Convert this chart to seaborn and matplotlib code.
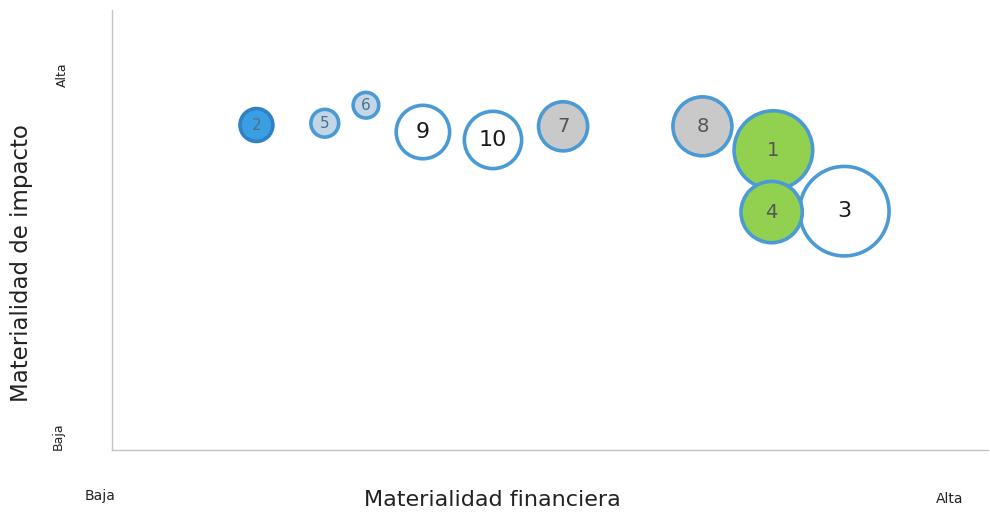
import matplotlib
matplotlib.use("Agg")
import matplotlib.pyplot as plt
import seaborn as sns
import pandas as pd

# bubbles: id, financial materiality (x), impact materiality (y), marker area
labels = ["1", "2", "3", "4", "5", "6", "7", "8", "9", "10"]
financiera = [75.5, 16.5, 83.6, 75.3, 24.3, 29.0, 51.5, 67.4, 35.5, 43.5]
impacto = [68.2, 73.9, 54.3, 54.1, 74.3, 78.4, 73.6, 73.6, 72.3, 70.5]
areas = [3200, 560, 4150, 1950, 400, 340, 1250, 1800, 1480, 1700]
grupo = ["verde", "azul", "blanco", "verde", "claro", "claro", "gris", "gris", "blanco", "blanco"]

colores = {"verde": "#92d050", "azul": "#3a9fe2", "blanco": "#ffffff",
           "claro": "#c3d6e6", "gris": "#c9c9c9"}

df = pd.DataFrame({"id": labels, "x": financiera, "y": impacto,
                   "s": areas, "grupo": grupo})
bordes = ["#2f80c4" if g == "azul" else "#4a9ad6" for g in grupo]

sns.set_style("white")
fig = plt.figure(figsize=(9.9, 5.13), dpi=100)
ax = fig.add_axes([0.113, 0.123, 0.885, 0.857])

sns.scatterplot(data=df, x="x", y="y", hue="grupo", palette=colores,
                s=df["s"].values, edgecolor=bordes, linewidth=2.6,
                legend=False, ax=ax, zorder=3)

for _, r in df.iterrows():
    if r["id"] in ("2", "5", "6"):
        fs, col = 11, "#4f6f8a"
    elif r["grupo"] == "blanco":
        fs, col = 16, "#1a1a1a"
    else:
        fs, col = 14, "#555555"
    ax.text(r["x"], r["y"], r["id"], ha="center", va="center",
            fontsize=fs, color=col, zorder=4)

ax.set_xlim(0, 100)
ax.set_ylim(0, 100)
ax.set_xticks([])
ax.set_yticks([])
for s in ["top", "right"]:
    ax.spines[s].set_visible(False)
for s in ["left", "bottom"]:
    ax.spines[s].set_color("#c4c4c4")
    ax.spines[s].set_linewidth(1.0)

ax.set_xlabel("")
ax.set_ylabel("")
fig.text(492 / 990, 1 - 500 / 513, "Materialidad financiera", ha="center",
         va="center", fontsize=16, color="#222222")
fig.text(22 / 990, 1 - 263 / 513, "Materialidad de impacto", ha="center",
         va="center", rotation=90, fontsize=16.5, color="#222222")

fig.text(100 / 990, 1 - 496 / 513, "Baja", ha="center", va="center",
         fontsize=10, color="#222222")
fig.text(950 / 990, 1 - 499 / 513, "Alta", ha="center", va="center",
         fontsize=10, color="#222222")
fig.text(62 / 990, 1 - 75 / 513, "Alta", ha="center", va="center",
         rotation=90, fontsize=9, color="#222222")
fig.text(58 / 990, 1 - 436 / 513, "Baja", ha="center", va="center",
         rotation=90, fontsize=9, color="#222222")

fig.savefig("out.png", dpi=100)
